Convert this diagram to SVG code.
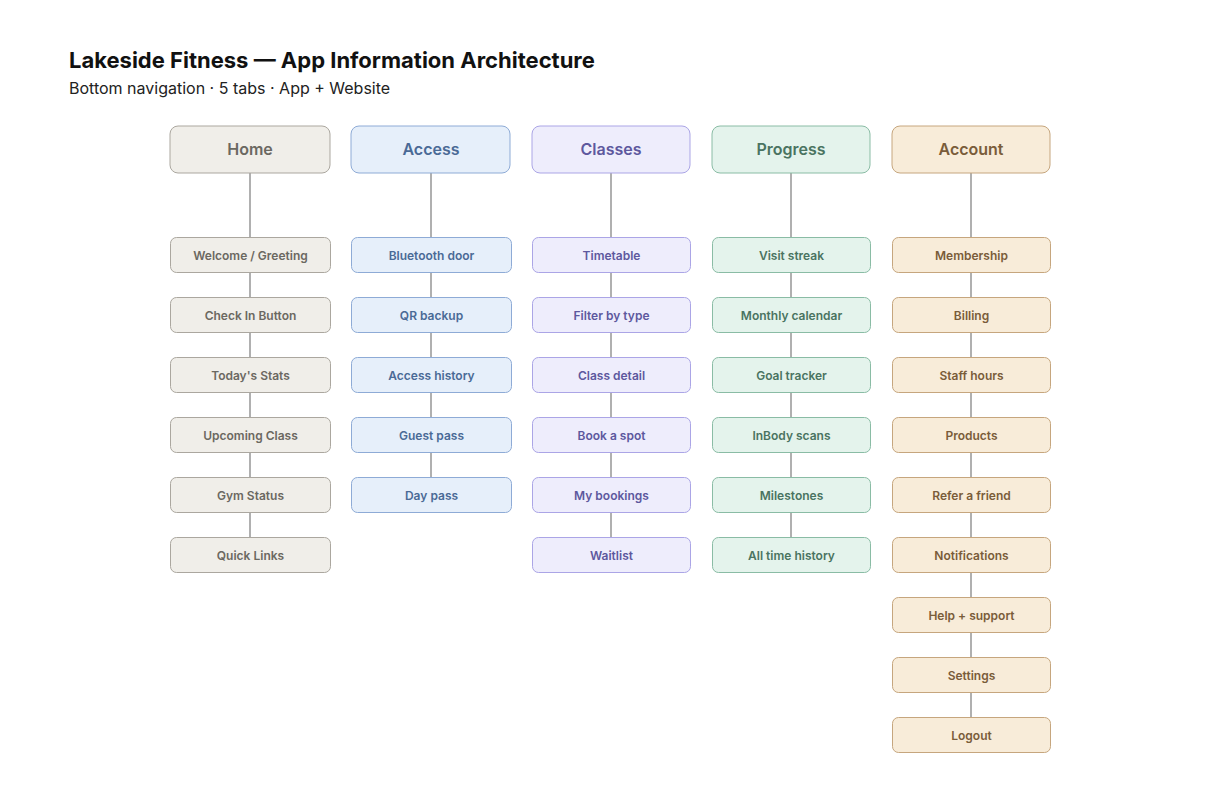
<svg xmlns="http://www.w3.org/2000/svg" width="1221" height="799" viewBox="0 0 1221 799">
<style>
.title{font-family:Inter,"Liberation Sans",sans-serif;font-size:22px;font-weight:700;fill:#111}
.sub{font-family:Inter,"Liberation Sans",sans-serif;font-size:16px;fill:#222}
.h{font-family:Inter,"Liberation Sans",sans-serif;font-size:16px;font-weight:600;text-anchor:middle}
.c{font-family:Inter,"Liberation Sans",sans-serif;font-size:12px;font-weight:600;text-anchor:middle}
.conn line{stroke:#b0b0b0;stroke-width:2}
.home rect{fill:#f0eee9;stroke:#aba79f}.home text{fill:#6b6861}
.access rect{fill:#e6effa;stroke:#8eabd6}.access text{fill:#4a6a96}
.classes rect{fill:#eeedfc;stroke:#aba5e6}.classes text{fill:#5d589e}
.progress rect{fill:#e4f3ec;stroke:#8abca5}.progress text{fill:#4a7361}
.account rect{fill:#f8ecd9;stroke:#c6a67e}.account text{fill:#7a5c3a}
</style>
<rect width="1221" height="799" fill="#ffffff"/>
<text class="title" x="69" y="68">Lakeside Fitness — App Information Architecture</text>
<text class="sub" x="69" y="94">Bottom navigation · 5 tabs · App + Website</text>
<g class="conn">
<line x1="250" y1="173" x2="250" y2="537"/>
<line x1="431" y1="173" x2="431" y2="477"/>
<line x1="611" y1="173" x2="611" y2="537"/>
<line x1="791" y1="173" x2="791" y2="537"/>
<line x1="971" y1="173" x2="971" y2="717"/>
</g>
<g id="home" class="home">
<rect x="170" y="126" width="160" height="47" rx="8"/><text class="h" x="250" y="155">Home</text>
<rect x="170.5" y="237.5" width="160" height="35" rx="6"/><text class="c" x="250.5" y="259.5">Welcome / Greeting</text>
<rect x="170.5" y="297.5" width="160" height="35" rx="6"/><text class="c" x="250.5" y="319.5">Check In Button</text>
<rect x="170.5" y="357.5" width="160" height="35" rx="6"/><text class="c" x="250.5" y="379.5">Today's Stats</text>
<rect x="170.5" y="417.5" width="160" height="35" rx="6"/><text class="c" x="250.5" y="439.5">Upcoming Class</text>
<rect x="170.5" y="477.5" width="160" height="35" rx="6"/><text class="c" x="250.5" y="499.5">Gym Status</text>
<rect x="170.5" y="537.5" width="160" height="35" rx="6"/><text class="c" x="250.5" y="559.5">Quick Links</text>
</g>
<g id="access" class="access">
<rect x="351" y="126" width="159" height="47" rx="8"/><text class="h" x="431" y="155">Access</text>
<rect x="351.5" y="237.5" width="160" height="35" rx="6"/><text class="c" x="431.5" y="259.5">Bluetooth door</text>
<rect x="351.5" y="297.5" width="160" height="35" rx="6"/><text class="c" x="431.5" y="319.5">QR backup</text>
<rect x="351.5" y="357.5" width="160" height="35" rx="6"/><text class="c" x="431.5" y="379.5">Access history</text>
<rect x="351.5" y="417.5" width="160" height="35" rx="6"/><text class="c" x="431.5" y="439.5">Guest pass</text>
<rect x="351.5" y="477.5" width="160" height="35" rx="6"/><text class="c" x="431.5" y="499.5">Day pass</text>
</g>
<g id="classes" class="classes">
<rect x="532" y="126" width="158" height="47" rx="8"/><text class="h" x="611" y="155">Classes</text>
<rect x="532.5" y="237.5" width="158" height="35" rx="6"/><text class="c" x="611.5" y="259.5">Timetable</text>
<rect x="532.5" y="297.5" width="158" height="35" rx="6"/><text class="c" x="611.5" y="319.5">Filter by type</text>
<rect x="532.5" y="357.5" width="158" height="35" rx="6"/><text class="c" x="611.5" y="379.5">Class detail</text>
<rect x="532.5" y="417.5" width="158" height="35" rx="6"/><text class="c" x="611.5" y="439.5">Book a spot</text>
<rect x="532.5" y="477.5" width="158" height="35" rx="6"/><text class="c" x="611.5" y="499.5">My bookings</text>
<rect x="532.5" y="537.5" width="158" height="35" rx="6"/><text class="c" x="611.5" y="559.5">Waitlist</text>
</g>
<g id="progress" class="progress">
<rect x="712" y="126" width="158" height="47" rx="8"/><text class="h" x="791" y="155">Progress</text>
<rect x="712.5" y="237.5" width="158" height="35" rx="6"/><text class="c" x="791.5" y="259.5">Visit streak</text>
<rect x="712.5" y="297.5" width="158" height="35" rx="6"/><text class="c" x="791.5" y="319.5">Monthly calendar</text>
<rect x="712.5" y="357.5" width="158" height="35" rx="6"/><text class="c" x="791.5" y="379.5">Goal tracker</text>
<rect x="712.5" y="417.5" width="158" height="35" rx="6"/><text class="c" x="791.5" y="439.5">InBody scans</text>
<rect x="712.5" y="477.5" width="158" height="35" rx="6"/><text class="c" x="791.5" y="499.5">Milestones</text>
<rect x="712.5" y="537.5" width="158" height="35" rx="6"/><text class="c" x="791.5" y="559.5">All time history</text>
</g>
<g id="account" class="account">
<rect x="892" y="126" width="158" height="47" rx="8"/><text class="h" x="971" y="155">Account</text>
<rect x="892.5" y="237.5" width="158" height="35" rx="6"/><text class="c" x="971.5" y="259.5">Membership</text>
<rect x="892.5" y="297.5" width="158" height="35" rx="6"/><text class="c" x="971.5" y="319.5">Billing</text>
<rect x="892.5" y="357.5" width="158" height="35" rx="6"/><text class="c" x="971.5" y="379.5">Staff hours</text>
<rect x="892.5" y="417.5" width="158" height="35" rx="6"/><text class="c" x="971.5" y="439.5">Products</text>
<rect x="892.5" y="477.5" width="158" height="35" rx="6"/><text class="c" x="971.5" y="499.5">Refer a friend</text>
<rect x="892.5" y="537.5" width="158" height="35" rx="6"/><text class="c" x="971.5" y="559.5">Notifications</text>
<rect x="892.5" y="597.5" width="158" height="35" rx="6"/><text class="c" x="971.5" y="619.5">Help + support</text>
<rect x="892.5" y="657.5" width="158" height="35" rx="6"/><text class="c" x="971.5" y="679.5">Settings</text>
<rect x="892.5" y="717.5" width="158" height="35" rx="6"/><text class="c" x="971.5" y="739.5">Logout</text>
</g>
</svg>
